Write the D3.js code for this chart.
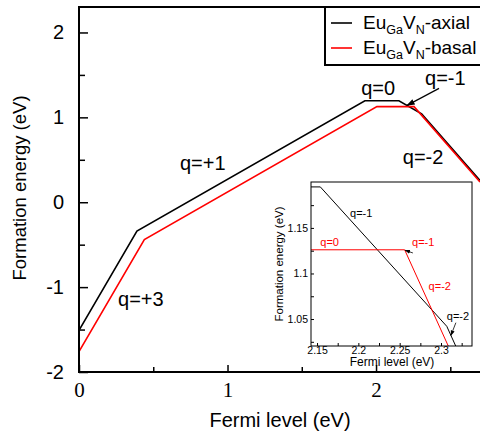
<!DOCTYPE html>
<html>
<head>
<meta charset="utf-8">
<script src="https://cdn.jsdelivr.net/npm/d3@7"></script>
<style>
  body { margin: 0; background: #fff; }
  svg { display: block; font-family: "Liberation Sans", Arial, sans-serif; }
</style>
</head>
<body>
<svg id="chart" width="480" height="436"></svg>
<script>
// EuGaVN formation energy vs Fermi level (kinks)
const axialX = [0, 0.39, 1.925, 2.154, 2.307, 2.7];
const axialE = [-1.51, -0.34, 1.195, 1.195, 1.042, 0.256];
const basalX = [0, 0.44, 2.006, 2.256, 2.7];
const basalE = [-1.76, -0.44, 1.126, 1.126, 0.238];

const mainXTicks = [0, 0.5, 1, 1.5, 2, 2.5];
const mainYTicks = [-2, -1.5, -1, -0.5, 0, 0.5, 1, 1.5, 2];
const insetXTicks = [2.15, 2.175, 2.2, 2.225, 2.25, 2.275, 2.3, 2.325];
const insetYTicks = [1.025, 1.05, 1.075, 1.1, 1.125, 1.15, 1.175];

const mainLabels = [
  { text: "q=+1", x: 0.68, y: 0.38 },
  { text: "q=+3", x: 0.263, y: -1.22 },
  { text: "q=0", x: 1.90, y: 1.26 },
  { text: "q=-1", x: 2.33, y: 1.38 },
  { text: "q=-2", x: 2.18, y: 0.45 }
];
const insetLabels = [
  { text: "q=-1", x: 2.19, y: 1.162, color: "#000" },
  { text: "q=0", x: 2.154, y: 1.130, color: "#f00" },
  { text: "q=-1", x: 2.265, y: 1.130, color: "#f00" },
  { text: "q=-2", x: 2.285, y: 1.082, color: "#f00" },
  { text: "q=-2", x: 2.307, y: 1.049, color: "#000" }
];

const series = [
  { name: "axial", xs: axialX, ys: axialE, color: "#000" },
  { name: "basal", xs: basalX, ys: basalE, color: "#f00" }
];

const svg = d3.select("#chart");
const defs = svg.append("defs");
defs.append("marker")
  .attr("id", "arrow").attr("viewBox", "0 0 10 10")
  .attr("refX", 9).attr("refY", 5)
  .attr("markerWidth", 7).attr("markerHeight", 7)
  .attr("orient", "auto")
  .append("path").attr("d", "M0,1.5L10,5L0,8.5Z").attr("fill", "#000");

// ---- main plot
const x = d3.scaleLinear().domain([0, 2.7]).range([79, 480]);
const y = d3.scaleLinear().domain([-2, 2.3]).range([372, 7]);

defs.append("clipPath").attr("id", "mainClip")
  .append("rect").attr("x", 79).attr("y", 7).attr("width", 401).attr("height", 365);

const line = (sx, sy) => d3.line().x(d => sx(d[0])).y(d => sy(d[1]));

const gMain = svg.append("g").attr("clip-path", "url(#mainClip)");
series.forEach(s => {
  gMain.append("path")
    .datum(d3.zip(s.xs, s.ys))
    .attr("fill", "none")
    .attr("stroke", s.color)
    .attr("stroke-width", 1.6)
    .attr("d", line(x, y));
});

// frame
svg.append("rect")
  .attr("x", 79).attr("y", 7).attr("width", 420).attr("height", 365)
  .attr("fill", "none").attr("stroke", "#000").attr("stroke-width", 2);

const yAxis = svg.append("g")
  .attr("transform", "translate(79,0)")
  .call(d3.axisLeft(y).tickValues(mainYTicks).tickSizeInner(-9).tickSizeOuter(0).tickPadding(15)
    .tickFormat(d => Number.isInteger(d) ? d : ""));
yAxis.select(".domain").remove();
yAxis.selectAll(".tick line").attr("stroke-width", 1.5)
  .attr("x2", d => Number.isInteger(d) ? 9 : 6);
yAxis.selectAll(".tick text")
  .attr("font-size", 20).attr("font-family", "Liberation Sans, Arial, sans-serif").attr("fill", "#000");

const xAxis = svg.append("g")
  .attr("transform", "translate(0,372)")
  .call(d3.axisBottom(x).tickValues(mainXTicks).tickSizeInner(-6).tickSizeOuter(0).tickPadding(10)
    .tickFormat(d => Number.isInteger(d) ? d : ""));
xAxis.select(".domain").remove();
xAxis.selectAll(".tick line").attr("stroke-width", 1.5)
  .attr("y2", d => Number.isInteger(d) ? -7 : -5);
xAxis.selectAll(".tick text")
  .attr("font-size", 21).attr("font-family", "Liberation Serif, Times New Roman, serif").attr("fill", "#000");

svg.append("text")
  .attr("transform", "translate(26,188) rotate(-90)")
  .attr("text-anchor", "middle").attr("font-size", 18.5)
  .text("Formation energy (eV)");
svg.append("text")
  .attr("x", 280).attr("y", 427)
  .attr("text-anchor", "middle").attr("font-size", 20)
  .text("Fermi level (eV)");

svg.append("g").selectAll("text")
  .data(mainLabels).join("text")
  .attr("x", d => x(d.x)).attr("y", d => y(d.y))
  .attr("font-size", 20)
  .text(d => d.text);

svg.append("line")
  .attr("x1", x(2.424)).attr("y1", y(1.341))
  .attr("x2", x(2.209)).attr("y2", y(1.141))
  .attr("stroke", "#000").attr("stroke-width", 1.2)
  .attr("marker-end", "url(#arrow)");

// legend
const leg = svg.append("g");
leg.append("rect")
  .attr("x", 325).attr("y", 7).attr("width", 170).attr("height", 58)
  .attr("fill", "#fff").attr("stroke", "#000").attr("stroke-width", 2);
[["axial", "#000"], ["basal", "#f00"]].forEach(([lab, col], i) => {
  const ly = 23 + i * 25;
  leg.append("line").attr("x1", 331).attr("x2", 352).attr("y1", ly).attr("y2", ly)
    .attr("stroke", col).attr("stroke-width", 1.6);
  const t = leg.append("text").attr("x", 363).attr("y", ly + 6).attr("font-size", 19);
  t.append("tspan").text("Eu");
  t.append("tspan").attr("font-size", 12.5).attr("dy", 5).text("Ga");
  t.append("tspan").attr("dy", -5).text("V");
  t.append("tspan").attr("font-size", 12.5).attr("dy", 5).text("N");
  t.append("tspan").attr("dy", -5).text("-" + lab);
});

// ---- inset
const ix = d3.scaleLinear().domain([2.1427, 2.3375]).range([311, 472]);
const iy = d3.scaleLinear().domain([1.0204, 1.2004]).range([346, 182]);

svg.append("rect")
  .attr("x", 311).attr("y", 182).attr("width", 161).attr("height", 164)
  .attr("fill", "#fff");

defs.append("clipPath").attr("id", "insetClip")
  .append("rect").attr("x", 311).attr("y", 182).attr("width", 161).attr("height", 164);

const gIn = svg.append("g").attr("clip-path", "url(#insetClip)");
series.forEach(s => {
  gIn.append("path")
    .datum(d3.zip(s.xs, s.ys))
    .attr("fill", "none")
    .attr("stroke", s.color)
    .attr("stroke-width", 1)
    .attr("d", line(ix, iy));
});

const major = vals => d => vals.some(v => Math.abs(v - d) < 1e-6) ? String(+d.toFixed(2)) : "";

const ixAxis = svg.append("g")
  .attr("transform", "translate(0,346)")
  .call(d3.axisBottom(ix).tickValues(insetXTicks).tickSizeInner(-3).tickSizeOuter(0).tickPadding(1)
    .tickFormat(major([2.15, 2.2, 2.25, 2.3])));
ixAxis.select(".domain").remove();
ixAxis.selectAll(".tick text").attr("font-size", 10.5).attr("fill", "#000")
  .attr("font-family", "Liberation Sans, Arial, sans-serif");

const iyAxis = svg.append("g")
  .attr("transform", "translate(311,0)")
  .call(d3.axisLeft(iy).tickValues(insetYTicks).tickSizeInner(-3).tickSizeOuter(0).tickPadding(3)
    .tickFormat(major([1.05, 1.1, 1.15])));
iyAxis.select(".domain").remove();
iyAxis.selectAll(".tick text").attr("font-size", 10.5).attr("fill", "#000")
  .attr("font-family", "Liberation Sans, Arial, sans-serif");

svg.append("rect")
  .attr("x", 311).attr("y", 182).attr("width", 161).attr("height", 164)
  .attr("fill", "none").attr("stroke", "#000").attr("stroke-width", 1);

svg.append("text")
  .attr("transform", "translate(283,264) rotate(-90)")
  .attr("text-anchor", "middle").attr("font-size", 11.5)
  .text("Formation energy (eV)");
svg.append("text")
  .attr("x", 392).attr("y", 366)
  .attr("text-anchor", "middle").attr("font-size", 12)
  .text("Fermi level (eV)");

svg.append("g").selectAll("text")
  .data(insetLabels).join("text")
  .attr("x", d => ix(d.x)).attr("y", d => iy(d.y))
  .attr("font-size", 11)
  .attr("fill", d => d.color)
  .text(d => d.text);

svg.append("line")
  .attr("x1", ix(2.266)).attr("y1", iy(1.1225))
  .attr("x2", ix(2.2565)).attr("y2", iy(1.1255))
  .attr("stroke", "#000").attr("stroke-width", 0.8)
  .attr("marker-end", "url(#arrow)");
svg.append("line")
  .attr("x1", ix(2.318)).attr("y1", iy(1.046))
  .attr("x2", ix(2.312)).attr("y2", iy(1.032))
  .attr("stroke", "#000").attr("stroke-width", 0.8)
  .attr("marker-end", "url(#arrow)");
</script>
</body>
</html>
